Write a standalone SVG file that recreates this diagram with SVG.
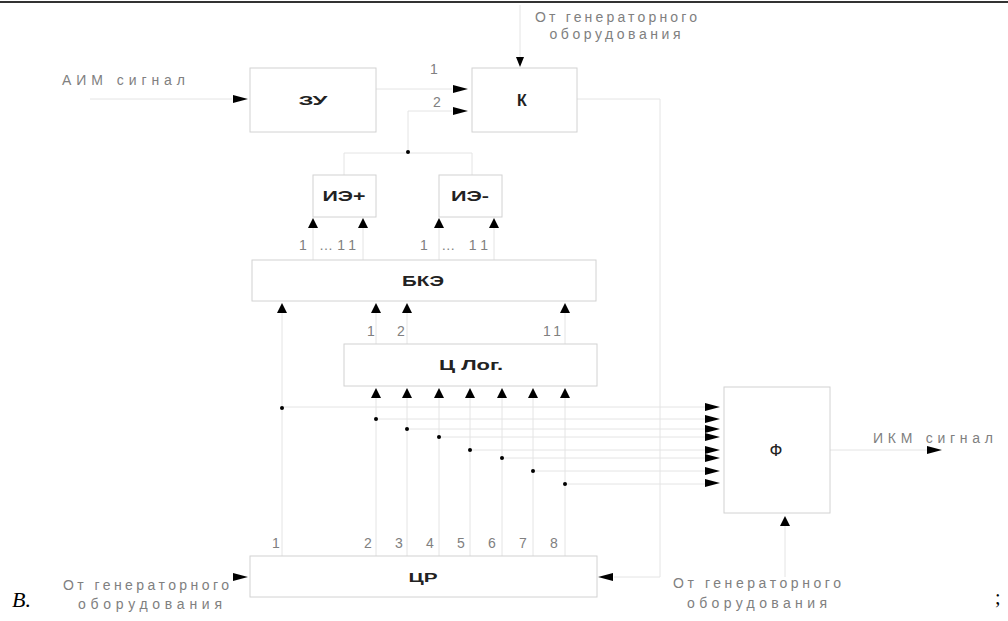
<svg xmlns="http://www.w3.org/2000/svg" width="1008" height="621" viewBox="0 0 1008 621">
<style>
.box{fill:#fff;stroke:#d2d2d2;stroke-width:1}
.ln{fill:none;stroke:#e4e4e4;stroke-width:1}
.bl{font-family:"Liberation Sans",Arial,sans-serif;fill:#222;text-anchor:middle}
.lb{font-family:"Liberation Sans",Arial,sans-serif;fill:#808080;font-size:14px}
.ah{fill:#000}
.dot{fill:#000}
</style>
<defs>
<polygon id="ar" points="0,0 -15,-4 -15,4"/>
<polygon id="al" points="0,0 15,-4 15,4"/>
<polygon id="au" points="0,0 -5,10 5,10"/>
<polygon id="ad" points="0,0 -4,-10 4,-10"/>
</defs>
<rect width="1008" height="621" fill="#fff"/>
<line x1="0" y1="2" x2="1008" y2="2" stroke="#333" stroke-width="2"/>

<g id="connectors">
<path class="ln" d="M90,99H232"/>
<path class="ln" d="M370,89H452"/>
<path class="ln" d="M408,153V111H452"/>
<path class="ln" d="M344,175V153H472V175"/>
<path class="ln" d="M520,5V57"/>
<path class="ln" d="M577,99H660V577H614"/>
<path class="ln" d="M313,260V228M363,260V228M439,260V228M494,260V228"/>
<path class="ln" d="M282,313V556M376,313V344M407,313V344M565,313V344"/>
<path class="ln" d="M376,398V556M407,398V556M439,398V556M470,398V556M502,398V556M533,398V556M565,398V556"/>
<path class="ln" d="M282,407H705M376,419H705M407,429H705M439,437H705M470,450H705M502,458H705M533,471H705M565,484H705"/>
<path class="ln" d="M830,450H927"/>
<path class="ln" d="M785,577V526"/>
<g class="ah">
<use href="#ar" x="248" y="99"/>
<use href="#ar" x="468" y="89"/>
<use href="#ar" x="468" y="111"/>
<use href="#ad" x="520" y="67"/>
<use href="#al" x="598" y="577"/>
<use href="#ar" x="248" y="577"/>
<use href="#au" x="313" y="218"/>
<use href="#au" x="363" y="218"/>
<use href="#au" x="439" y="218"/>
<use href="#au" x="494" y="218"/>
<use href="#au" x="282" y="303"/>
<use href="#au" x="376" y="303"/>
<use href="#au" x="407" y="303"/>
<use href="#au" x="565" y="303"/>
<use href="#au" x="376" y="388"/>
<use href="#au" x="407" y="388"/>
<use href="#au" x="439" y="388"/>
<use href="#au" x="470" y="388"/>
<use href="#au" x="502" y="388"/>
<use href="#au" x="533" y="388"/>
<use href="#au" x="565" y="388"/>
<use href="#ar" x="720" y="407"/>
<use href="#ar" x="720" y="419"/>
<use href="#ar" x="720" y="429"/>
<use href="#ar" x="720" y="437"/>
<use href="#ar" x="720" y="450"/>
<use href="#ar" x="720" y="458"/>
<use href="#ar" x="720" y="471"/>
<use href="#ar" x="720" y="483"/>
<use href="#ar" x="942" y="450"/>
<use href="#au" x="785" y="516"/>
</g>
<g class="dot">
<circle cx="408" cy="152" r="2"/>
<circle cx="282" cy="408" r="2"/>
<circle cx="376" cy="419" r="2"/>
<circle cx="407" cy="429" r="2"/>
<circle cx="439" cy="437" r="2"/>
<circle cx="470" cy="450" r="2"/>
<circle cx="502" cy="458" r="2"/>
<circle cx="533" cy="471" r="2"/>
<circle cx="565" cy="484" r="2"/>
</g>
</g>

<g id="zu"><rect class="box" x="250" y="68" width="126" height="64"/><text class="bl" x="313" y="105" font-size="13" font-weight="bold" textLength="29" lengthAdjust="spacingAndGlyphs">ЗУ</text></g>
<g id="k"><rect class="box" x="472" y="68" width="105" height="64"/><text class="bl" x="522" y="106" font-size="16" font-weight="bold">К</text></g>
<g id="ie-plus"><rect class="box" x="313" y="175" width="63" height="42"/><text class="bl" x="344" y="201" font-size="14" font-weight="bold" textLength="43" lengthAdjust="spacingAndGlyphs">ИЭ+</text></g>
<g id="ie-minus"><rect class="box" x="439" y="175" width="63" height="42"/><text class="bl" x="470" y="201" font-size="14" font-weight="bold" textLength="38" lengthAdjust="spacingAndGlyphs">ИЭ-</text></g>
<g id="bke"><rect class="box" x="252" y="260" width="344" height="41"/><text class="bl" x="423" y="286" font-size="14" font-weight="bold" textLength="42" lengthAdjust="spacingAndGlyphs">БКЭ</text></g>
<g id="clog"><rect class="box" x="344" y="344" width="253" height="42"/><text class="bl" x="471" y="370" font-size="14" font-weight="bold" textLength="64" lengthAdjust="spacingAndGlyphs">Ц Лог.</text></g>
<g id="f"><rect class="box" x="724" y="387" width="106" height="126"/><text class="bl" x="776" y="456" font-size="17">Ф</text></g>
<g id="cr"><rect class="box" x="250" y="556" width="347" height="41"/><text class="bl" x="423" y="582" font-size="13" font-weight="bold" textLength="29" lengthAdjust="spacingAndGlyphs">ЦР</text></g>

<g id="labels">
<text class="lb" x="616" y="22" text-anchor="middle" textLength="162" lengthAdjust="spacing">От генераторного</text>
<text class="lb" x="615" y="39" text-anchor="middle" textLength="131" lengthAdjust="spacing">оборудования</text>
<text class="lb" x="62" y="85" textLength="123" lengthAdjust="spacing">АИМ сигнал</text>
<text class="lb" x="430" y="74">1</text>
<text class="lb" x="433" y="107">2</text>
<text class="lb" x="299" y="250" textLength="57" lengthAdjust="spacing">1 …11</text>
<text class="lb" x="420" y="250" textLength="68" lengthAdjust="spacing">1 … 11</text>
<text class="lb" x="367" y="336">1</text>
<text class="lb" x="397" y="336">2</text>
<text class="lb" x="543" y="336" textLength="18" lengthAdjust="spacing">11</text>
<text class="lb" x="873" y="443" textLength="120" lengthAdjust="spacing">ИКМ сигнал</text>
<text class="lb" x="272" y="548">1</text>
<text class="lb" x="364" y="548">2</text>
<text class="lb" x="395" y="548">3</text>
<text class="lb" x="426" y="548">4</text>
<text class="lb" x="457" y="548">5</text>
<text class="lb" x="488" y="548">6</text>
<text class="lb" x="519" y="548">7</text>
<text class="lb" x="550" y="548">8</text>
<text class="lb" x="146" y="590" text-anchor="middle" textLength="166" lengthAdjust="spacing">От генераторного</text>
<text class="lb" x="150" y="609" text-anchor="middle" textLength="144" lengthAdjust="spacing">оборудования</text>
<text class="lb" x="757" y="588" text-anchor="middle" textLength="168" lengthAdjust="spacing">От генераторного</text>
<text class="lb" x="757" y="608" text-anchor="middle" textLength="140" lengthAdjust="spacing">оборудования</text>
<text x="12" y="607" font-family="Liberation Serif,serif" font-style="italic" font-size="22" fill="#000">B.</text>
<text x="995" y="604" font-family="Liberation Serif,serif" font-size="20" fill="#000">;</text>
</g>
</svg>
